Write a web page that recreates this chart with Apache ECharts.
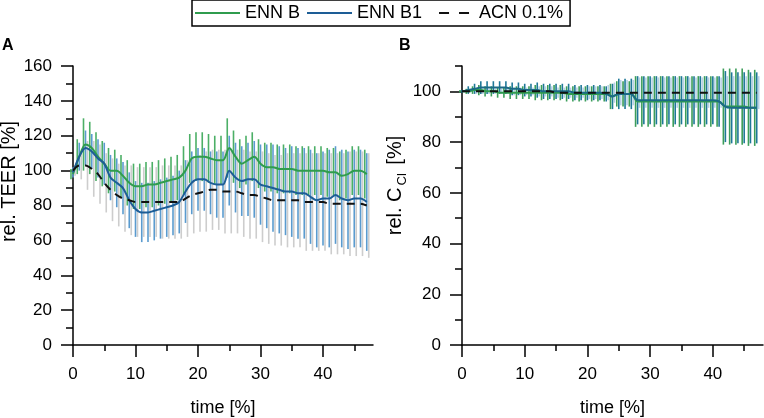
<!DOCTYPE html>
<html>
<head>
<meta charset="utf-8">
<script src="https://cdn.jsdelivr.net/npm/echarts@6/dist/echarts.min.js"></script>
<style>html,body{margin:0;padding:0;background:#fff}#c{width:764px;height:418px}</style>
</head>
<body>
<div id="c"></div>
<script>
const time = [0,1,2,3,4,5,6,7,8,9,10,11,12,13,14,15,16,17,18,19,20,21,22,23,24,25,26,27,28,29,30,31,32,33,34,35,36,37,38,39,40,41,42,43,44,45,46,47];

// Panel A: rel. TEER [%]
const A_ennB_mean = [98,108,115,113,108,104,100,100,97,93,91,91,92,92,93,94,95,96,100,107,108,108,107,106,106,113,108,104,106,108,104,102,102,101,101,101,100,100,100,100,100,99,99,97,98,100,100,98];
const A_ennB_sd   = [3,10,15,15,14,13,13,12,12,13,13,13,13,13,13,13,13,13,14,14,14,14,14,14,14,17,15,14,14,14,14,14,14,14,14,14,14,14,14,14,14,14,14,14,14,14,14,14];
const A_ennB1_mean = [99,108,113,111,107,104,96,93,90,83,78,76,76,77,78,79,80,82,88,93,95,95,93,92,92,100,96,94,95,95,92,91,90,89,88,88,87,87,85,83,84,84,86,84,83,84,84,82];
const A_ennB1_sd   = [3,8,10,10,11,12,13,14,15,16,16,17,17,17,17,17,17,18,18,18,18,18,18,19,19,20,20,20,21,22,23,24,25,25,25,26,26,26,27,27,27,28,28,28,28,28,28,28];
const A_acn_mean = [100,103,103,101,98,93,89,86,84,83,82,82,82,82,82,82,82,82,84,86,87,88,89,89,88,88,88,87,86,86,85,84,83,83,83,83,83,82,82,82,82,81,81,81,81,81,81,80];
const A_acn_sd   = [3,8,14,16,17,17,18,18,19,20,20,20,20,20,21,21,21,21,22,22,22,23,23,23,24,24,24,25,25,25,26,26,26,26,27,27,27,28,28,28,28,29,29,29,30,30,30,30];

// Panel B: rel. C_Cl [%]
const B_ennB_mean = [100,100,100.5,100.5,100,100,99.5,99.5,99.5,99.5,99.5,99.5,99.5,99.5,99.5,99.5,99.5,99,99,99,99,99,99,99,98,99,99,99,96,96,96,96,96,96,96,96,96,96,96,96,96,96,94,94,94,94,93.5,93.5];
const B_ennB_sd   = [0.5,1,1.5,2,2,2,2,2,2.5,2.5,2.5,2.5,3,3,3,3,3,3,3,3,3,3,3,3,5,5,5,5,10,10,10,10,10,10,10,10,10,10,10,10,10,10,15,15,15,15,15,15];
const B_ennB1_mean = [100,100.5,101,101.5,101.5,101.5,101.5,101.5,101,101,100.5,100.5,100.5,100,100,100,100,100,99.5,99.5,99.5,99.5,99.5,99,98,99,99,99,96.5,96.5,96.5,96.5,96.5,96.5,96.5,96.5,96.5,96.5,96.5,96.5,96.5,96,94,93.5,93.5,93.5,93.5,93.5];
const B_ennB1_sd   = [0.5,1.5,2,2.5,2.5,2.5,2.5,2.5,2.5,2.5,2.5,2.5,3,3,3,3,3,3,3,3,3,3,3,3,5,6,6,6,9.5,9.5,9.5,9.5,9.5,9.5,9.5,9.5,9.5,9.5,9.5,9.5,9.5,10,14,14,14,14,14,14];
const B_acn_mean = [100,100,100,100,100,100,100,100,100,100,100,100,100,100,100,99.5,99.5,99.5,99.5,99.5,99.5,99.5,99.5,99.5,99.5,99.5,99.5,99.5,99.5,99.5,99.5,99.5,99.5,99.5,99.5,99.5,99.5,99.5,99.5,99.5,99.5,99.5,99.5,99.5,99.5,99.5,99.5,99.5];
const B_acn_sd   = [0.5,0.5,1,1,1,1,1,1,1.5,1.5,1.5,1.5,2,2,2,2,2,2,2,2,2.5,2.5,2.5,3,4,5,5,5,6,6,6,6,6,6,6,6,6,6,6,6,6,6,6.5,6.5,6.5,6.5,6.5,6.5];

const xMajor = [0,10,20,30,40];
const xMinor = [5,15,25,35,45];
const yAMinor = [10,30,50,70,90,110,130,150];
const yBMajor = [0,20,40,60,80,100];
const yBMinor = [10,30,50,70,90,110];
const seriesNames = ['ENN B','ENN B1','ACN 0.1%'];

const FONT = 'Liberation Sans, Arial, sans-serif';
const C_GREEN = '#2f9c4e', C_BLUE = '#1d5d96';

function errData(mean, sd){ return time.map((t,i)=>[t, mean[i]-sd[i], mean[i]+sd[i]]); }
function lineData(mean){ return time.map((t,i)=>[t, mean[i]]); }
function errRender(offset, color, w){
  return function(params, api){
    const x = api.value(0), lo = api.value(1), hi = api.value(2);
    const p1 = api.coord([x, hi]), p2 = api.coord([x, lo]);
    return {type:'line', shape:{x1:p1[0]+offset, y1:p1[1], x2:p2[0]+offset, y2:p2[1]}, style:{stroke:color, lineWidth:w}};
  };
}
function errSeries(name, xi, yi, mean, sd, off, color, z){
  return {name:name, type:'custom', xAxisIndex:xi, yAxisIndex:yi, data:errData(mean,sd),
    renderItem: errRender(off, color, 1.6), encode:{x:0, y:[1,2]}, z:z, silent:true, animation:false};
}
function lineSeries(name, xi, yi, mean, color, dashed, z){
  return {name:name, type:'line', xAxisIndex:xi, yAxisIndex:yi, data:lineData(mean), smooth:0.3,
    showSymbol:false, symbol:'none', lineStyle:{color:color, width:2, type: dashed ? [8,6] : 'solid'},
    itemStyle:{color:color}, z:z, animation:false};
}

const axLine = {show:true, lineStyle:{color:'#000', width:1.5}};
const lbl = {color:'#000', fontSize:17, fontFamily:FONT, margin:21};
const xNameStyle = {color:'#000', fontSize:18, fontFamily:FONT};

function mainX(grid){
  return {type:'value', gridIndex:grid, min:0, max:48, name:'time [%]', nameLocation:'middle', nameGap:54,
    nameTextStyle:xNameStyle, axisLine:axLine,
    axisTick:{show:true, customValues:xMajor, length:12, lineStyle:{color:'#000', width:1.5}},
    axisLabel:Object.assign({customValues:xMajor}, lbl), splitLine:{show:false}};
}
function minorX(grid){
  return {type:'value', gridIndex:grid, min:0, max:48, axisLine:{show:false},
    axisTick:{show:true, customValues:xMinor, length:6, lineStyle:{color:'#000', width:1.5}},
    axisLabel:{show:false}, splitLine:{show:false}};
}
const G = (l, w) => ({left:l, top:66, width:w, height:279, outerBoundsMode:'none', containLabel:false});

const option = {
  backgroundColor:'#fff',
  animation:false,
  title:[
    {text:'A', left:2, top:38, padding:0, textStyle:{fontSize:16, fontWeight:'bold', color:'#000', fontFamily:FONT}},
    {text:'B', left:399, top:38, padding:0, textStyle:{fontSize:16, fontWeight:'bold', color:'#000', fontFamily:FONT}}
  ],
  legend:{
    data:[{name:'ENN B'},{name:'ENN B1'},{name:'ACN 0.1%', lineStyle:{type:[10,10], dashOffset:10}}],
    left:192, top:0, padding:[4,7,4,2], itemWidth:45, itemHeight:3, itemGap:6,
    itemStyle:{opacity:0},
    borderColor:'#000', borderWidth:1.5, borderRadius:0,
    textStyle:{fontSize:18, color:'#000', fontFamily:FONT}},
  grid:[ G(73,300), G(462,301), G(73,300), G(462,301) ],
  xAxis:[ mainX(0), mainX(1), minorX(2), minorX(3) ],
  yAxis:[
    {type:'value', gridIndex:0, min:0, max:160, interval:20, name:'rel. TEER [%]', nameLocation:'middle', nameGap:51,
      nameTextStyle:{color:'#000', fontSize:20, fontFamily:FONT, padding:[0,0,0,48]}, axisLine:axLine,
      axisTick:{show:true, length:12, lineStyle:{color:'#000', width:1.5}}, axisLabel:lbl, splitLine:{show:false}},
    {type:'value', gridIndex:1, min:0, max:110, name:'rel. C{sub|Cl} [%]', nameLocation:'middle', nameGap:42,
      nameTextStyle:{color:'#000', fontSize:20, fontFamily:FONT, lineHeight:26, padding:[0,0,0,40],
        rich:{sub:{fontSize:13, lineHeight:13, verticalAlign:'bottom', padding:[0,3,0,2], fontFamily:FONT, color:'#000'}}},
      axisLine:axLine,
      axisTick:{show:true, customValues:yBMajor, length:12, lineStyle:{color:'#000', width:1.5}},
      axisLabel:Object.assign({customValues:yBMajor}, lbl), splitLine:{show:false}},
    {type:'value', gridIndex:2, min:0, max:160, axisLine:{show:false},
      axisTick:{show:true, customValues:yAMinor, length:7, lineStyle:{color:'#000', width:1.5}},
      axisLabel:{show:false}, splitLine:{show:false}},
    {type:'value', gridIndex:3, min:0, max:110, axisLine:{show:false},
      axisTick:{show:true, customValues:yBMinor, length:7, lineStyle:{color:'#000', width:1.5}},
      axisLabel:{show:false}, splitLine:{show:false}}
  ],
  series:[
    errSeries('acn-sd-A',0,0,A_acn_mean,A_acn_sd,2,'#cdcdcd',1),
    errSeries('enn-b1-sd-A',0,0,A_ennB1_mean,A_ennB1_sd,0,'#5a9bcf',2),
    errSeries('enn-b-sd-A',0,0,A_ennB_mean,A_ennB_sd,-2,'#4caf66',3),
    lineSeries('ENN B',0,0,A_ennB_mean,C_GREEN,false,5),
    lineSeries('ENN B1',0,0,A_ennB1_mean,C_BLUE,false,6),
    lineSeries('ACN 0.1%',0,0,A_acn_mean,'#111',true,7),

    errSeries('acn-sd-B',1,1,B_acn_mean,B_acn_sd,2,'#b6d1e6',1),
    errSeries('enn-b1-sd-B',1,1,B_ennB1_mean,B_ennB1_sd,0,'#1f7898',2),
    errSeries('enn-b-sd-B',1,1,B_ennB_mean,B_ennB_sd,-2,'#3d9e5a',3),
    lineSeries('ENN B',1,1,B_ennB_mean,C_GREEN,false,5),
    lineSeries('ENN B1',1,1,B_ennB1_mean,'#1b6a86',false,6),
    lineSeries('ACN 0.1%',1,1,B_acn_mean,'#111',true,7)
  ]
};
echarts.init(document.getElementById('c')).setOption(option);
</script>
</body>
</html>
